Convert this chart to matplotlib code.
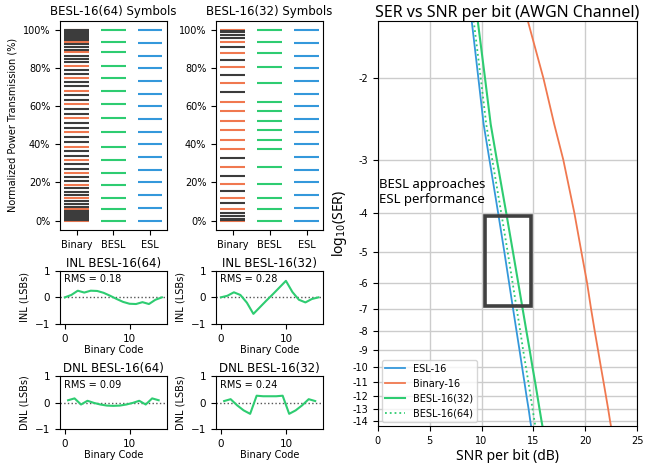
import numpy as np
import matplotlib
matplotlib.use("Agg")
import matplotlib.pyplot as plt
from matplotlib.patches import Rectangle

GREEN = "#2ecc71"
BLUE = "#3498db"
ORANGE = "#f0784f"
DARK = "#3c3c3c"

# binary power levels (%)
binary_64 = [0.0, 0.06, 0.25, 0.56, 0.99, 1.55, 2.22, 3.02, 3.93, 4.95, 6.09, 7.34, 8.69, 10.14,
             11.70, 13.35, 15.09, 16.92, 18.83, 20.81, 22.87, 25.0, 27.19, 29.44, 31.73, 34.08,
             36.46, 38.87, 41.32, 43.78, 46.26, 48.75, 51.25, 53.74, 56.22, 58.68, 61.13, 63.54,
             65.92, 68.27, 70.56, 72.81, 75.0, 77.13, 79.19, 81.17, 83.08, 84.91, 86.65, 88.30,
             89.86, 91.31, 92.66, 93.91, 95.05, 96.07, 96.98, 97.78, 98.45, 99.01, 99.44, 99.75,
             99.94, 100.0]
besl_64 = [0.0, 6.09, 11.70, 18.83, 25.0, 31.73, 38.87, 46.26, 53.74, 61.13, 68.27, 75.0,
           81.17, 88.30, 93.91, 100.0]

binary_32 = [0.0, 0.26, 1.02, 2.29, 4.05, 6.28, 8.96, 12.05, 15.55, 19.40, 23.56, 27.98, 32.64,
             37.47, 42.43, 47.47, 52.53, 57.57, 62.53, 67.36, 72.02, 76.44, 80.60, 84.45, 87.95,
             91.04, 93.72, 95.95, 97.71, 98.98, 99.74, 100.0]
besl_32 = [0.0, 6.28, 12.05, 19.40, 27.98, 37.47, 42.43, 47.47, 52.53, 57.57, 62.53, 72.02,
           80.60, 87.95, 93.72, 100.0]

esl_levels = [0.0, 6.67, 13.33, 20.0, 26.67, 33.33, 40.0, 46.67, 53.33, 60.0, 66.67, 73.33,
              80.0, 86.67, 93.33, 100.0]

# INL / DNL (LSBs)
codes = list(range(16))
inl_64 = [0.0, 0.09, 0.25, 0.18, 0.25, 0.24, 0.17, 0.06, -0.06, -0.17, -0.24, -0.25, -0.18,
          -0.25, -0.09, 0.0]
inl_32 = [0.0, 0.06, 0.19, 0.09, -0.20, -0.62, -0.37, -0.12, 0.12, 0.37, 0.62, 0.20, -0.09,
          -0.19, -0.06, 0.0]
dnl_codes = [0.5, 1.5, 2.5, 3.5, 4.5, 5.5, 6.5, 7.5, 8.5, 9.5, 10.5, 11.5, 12.5, 13.5, 14.5]
dnl_64 = [0.09, 0.16, -0.07, 0.07, -0.01, -0.07, -0.11, -0.12, -0.11, -0.07, -0.01, 0.07,
          -0.07, 0.16, 0.09]
dnl_32 = [0.06, 0.13, -0.10, -0.29, -0.42, 0.26, 0.24, 0.24, 0.24, 0.26, -0.42, -0.29, -0.10,
          0.13, 0.06]

# SER curves: log10(SER) levels and SNR per bit (dB)
ser_levels = [-1.56, -2, -2.5, -3, -4, -5, -6, -7, -8, -9, -10, -11, -12, -13, -14, -14.48]
snr_esl = [9.05, 9.69, 10.2, 10.76, 11.59, 12.19, 12.65, 13.03, 13.36, 13.65, 13.9, 14.13,
           14.33, 14.53, 14.69, 14.77]
snr_binary = [14.45, 15.95, 17.0, 17.87, 18.93, 19.61, 20.16, 20.54, 20.89, 21.21, 21.49, 21.75,
              21.98, 22.19, 22.37, 22.46]
snr_besl32 = [9.63, 10.33, 10.88, 11.47, 12.37, 13.02, 13.53, 13.95, 14.31, 14.63, 14.9, 15.16,
              15.38, 15.58, 15.77, 15.86]
snr_besl64 = [9.24, 9.92, 10.45, 11.03, 11.89, 12.51, 12.99, 13.38, 13.72, 14.0, 14.27, 14.51,
              14.72, 14.91, 15.09, 15.18]

ser_ticks = [-2, -3, -4, -5, -6, -7, -8, -9, -10, -11, -12, -13, -14]


def symbol_panel(ax, binary, besl, title):
    sel = [b for b in binary if b in besl]
    rest = [b for b in binary if b not in besl]
    ax.hlines(sel, -0.33, 0.33, colors=ORANGE, linewidth=1.5)
    ax.hlines(rest, -0.33, 0.33, colors=DARK, linewidth=1.5)
    ax.hlines(besl, 1 - 0.33, 1 + 0.33, colors=GREEN, linewidth=1.5)
    ax.hlines(esl_levels, 2 - 0.33, 2 + 0.33, colors=BLUE, linewidth=1.5)
    ax.set_xlim(-0.45, 2.45)
    ax.set_ylim(-5, 105)
    ax.set_xticks([0, 1, 2])
    ax.set_xticklabels(["Binary", "BESL", "ESL"])
    ax.set_yticks([0, 20, 40, 60, 80, 100])
    ax.set_yticklabels([f"{v}%" for v in [0, 20, 40, 60, 80, 100]])
    ax.tick_params(labelsize=7)
    ax.set_title(title, fontsize=8.5, pad=4)


def nl_panel(ax, x, y, title, ylabel, rms):
    ax.axhline(0, color="#555555", linestyle=":", linewidth=1)
    ax.plot(x, y, color=GREEN, linewidth=1.5)
    ax.set_xlim(-0.75, 15.75)
    ax.set_ylim(-1, 1)
    ax.set_yticks([-1, 0, 1])
    ax.set_xticks([0, 10])
    ax.tick_params(labelsize=7.5)
    ax.set_title(title, fontsize=8.5, pad=3)
    ax.set_ylabel(ylabel, fontsize=7)
    ax.set_xlabel("Binary Code", fontsize=7, labelpad=1)
    ax.text(0.04, 0.93, f"RMS = {rms}", transform=ax.transAxes, va="top", fontsize=7)


fig = plt.figure(figsize=(6.5, 4.63), dpi=100)

ax1 = fig.add_axes([0.0923, 0.5032, 0.1642, 0.4521])
ax2 = fig.add_axes([0.3323, 0.5032, 0.1651, 0.4521])
symbol_panel(ax1, binary_64, besl_64, "BESL-16(64) Symbols")
symbol_panel(ax2, binary_32, besl_32, "BESL-16(32) Symbols")
ax1.set_ylabel("Normalized Power Transmission (%)", fontsize=7)

ax3 = fig.add_axes([0.0923, 0.3002, 0.1642, 0.1151])
ax4 = fig.add_axes([0.3323, 0.3002, 0.1651, 0.1151])
ax5 = fig.add_axes([0.0923, 0.0728, 0.1642, 0.1151])
ax6 = fig.add_axes([0.3323, 0.0728, 0.1651, 0.1151])
nl_panel(ax3, codes, inl_64, "INL BESL-16(64)", "INL (LSBs)", "0.18")
nl_panel(ax4, codes, inl_32, "INL BESL-16(32)", "INL (LSBs)", "0.28")
nl_panel(ax5, dnl_codes, dnl_64, "DNL BESL-16(64)", "DNL (LSBs)", "0.09")
nl_panel(ax6, dnl_codes, dnl_32, "DNL BESL-16(32)", "DNL (LSBs)", "0.24")

# right panel, y axis stretched so the SER curves come out nearly straight
ax = fig.add_axes([0.5811, 0.0799, 0.3994, 0.8754])
ax.set_yscale("function", functions=(lambda v: -np.log(np.clip(-v - 0.6, 1e-6, None)),
                                     lambda t: -(np.exp(-t) + 0.6)))
ax.plot(snr_esl, ser_levels, color=BLUE, linewidth=1.3, label="ESL-16")
ax.plot(snr_binary, ser_levels, color=ORANGE, linewidth=1.3, label="Binary-16")
ax.plot(snr_besl32, ser_levels, color=GREEN, linewidth=1.5, label="BESL-16(32)")
ax.plot(snr_besl64, ser_levels, color=GREEN, linewidth=1.3, linestyle=":", label="BESL-16(64)")
ax.add_patch(Rectangle((10.35, -6.9), 4.4, 2.83, fill=False, edgecolor="#404040", linewidth=2.6,
                       zorder=5))
ax.text(0.15, -3.3, "BESL approaches\nESL performance", va="top", ha="left", fontsize=9.5,
        linespacing=1.25, family="Noto Sans")
ax.set_xlim(0, 25)
ax.set_ylim(-14.48, -1.56)
ax.set_xticks([0, 5, 10, 15, 20, 25])
ax.set_yticks(ser_ticks)
ax.set_yticklabels([str(t) for t in ser_ticks])
ax.minorticks_off()
ax.tick_params(labelsize=7)
ax.grid(True, color="#cccccc", linewidth=1)
ax.set_axisbelow(True)
ax.set_title("SER vs SNR per bit (AWGN Channel)", fontsize=11.5, pad=3, family="Noto Sans")
ax.set_xlabel("SNR per bit (dB)", fontsize=10, labelpad=2, family="Noto Sans")
ax.set_ylabel("log$_{10}$(SER)", fontsize=10, labelpad=2, family="Noto Sans")
ax.legend(loc="lower left", fontsize=7, handlelength=2.0, borderaxespad=0.4)

fig.savefig("out.png", dpi=100)
